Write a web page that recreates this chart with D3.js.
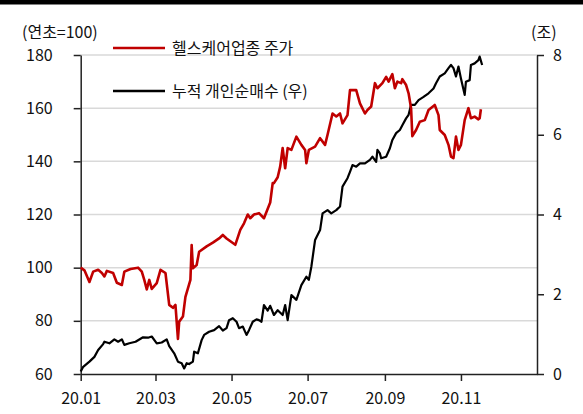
<!DOCTYPE html>
<html>
<head>
<meta charset="utf-8">
<script src="https://cdn.jsdelivr.net/npm/d3@7"></script>
<style>
  body { margin: 0; background: #fff; }
  text { font-family: "Noto Sans CJK KR", "Noto Sans", sans-serif; fill: #111; }
</style>
</head>
<body>
<div id="chart"></div>
<script>
// healthcare sector index (start of year = 100)
var priceDates = ["01-01","01-04","01-08","01-11","01-15","01-18","01-20","01-22","01-27","01-30",
  "02-03","02-05","02-10","02-16","02-19","02-21","02-23","02-25","02-27",
  "03-02","03-05","03-09","03-12","03-15","03-17","03-19","03-20","03-23","03-25","03-29","03-30","03-31",
  "04-03","04-05","04-11","04-16","04-21","04-24","04-27",
  "05-04","05-08","05-11","05-14","05-16","05-19","05-23","05-27",
  "06-01","06-03","06-04","06-07","06-09","06-11","06-13","06-15","06-18","06-22","06-26","06-29","06-30",
  "07-02","07-07","07-11","07-15","07-17","07-21","07-24","07-27","07-29",
  "08-02","08-04","08-09","08-12","08-16","08-18","08-21","08-24","08-26","08-30",
  "09-02","09-04","09-07","09-09","09-11","09-14","09-15","09-18","09-20","09-22","09-23","09-26","09-29",
  "10-03","10-06","10-11","10-14","10-15","10-19","10-22","10-24","10-26","10-28","10-30",
  "11-01","11-04","11-07","11-09","11-12","11-15","11-16","11-17"];
var priceValues = [100,99,94.6,98.5,99.2,98,96.7,98.8,98,94.3,
  93.5,98.5,99.5,100,98.5,95.4,91.8,95.4,92,
  94.2,99.2,98,86,84.9,86,73.2,79.7,81.6,89,95.4,108.5,99.8,
  101,106,108,109.4,111,112.3,111,
  108.6,114.2,116.7,120,118.6,120,120.5,118.6,
  124.5,131.8,131.8,134,138,145,137.4,145,144.3,149.3,146.2,144.3,139.3,
  144.3,145.5,148.7,146.2,150,158,156.9,158,154.3,
  157.4,166.8,166.8,161.8,158,159.3,160.6,169.4,167.5,169.4,
  171.8,170,172.8,167.5,170,169.4,170.9,168.7,165.6,160,149.5,151.8,154.9,
  155.5,159.3,161.2,157.4,151.8,149.9,146.2,141.8,141.2,149.3,144.3,
  146.2,155.5,160,156.2,156.8,155.8,156.2,159.6];

// cumulative individual net buying (trillion won, right axis)
var buyDates = ["01-01","01-03","01-08","01-12","01-15","01-19","01-20","01-24","01-28","01-31",
  "02-03","02-05","02-09","02-14","02-20","02-24","02-27",
  "03-02","03-06","03-10","03-12","03-16","03-19","03-22","03-24","03-26","03-28","03-31",
  "04-01","04-04","04-07","04-09","04-13","04-17","04-21","04-24","04-27","04-29",
  "05-02","05-05","05-07","05-10","05-13","05-15","05-18","05-21","05-23","05-25","05-27","05-30",
  "06-01","06-04","06-07","06-11","06-13","06-15","06-18","06-22","06-26","06-30",
  "07-02","07-04","07-07","07-11","07-13","07-17","07-20","07-24","07-27","07-29",
  "08-02","08-04","08-06","08-09","08-12","08-16","08-20","08-22","08-25","08-26","08-28","08-29",
  "09-02","09-05","09-07","09-10","09-13","09-15","09-18","09-20","09-22","09-25","09-28",
  "10-02","10-06","10-10","10-12","10-15","10-19","10-22","10-24","10-26","10-28","10-30",
  "11-01","11-04","11-05","11-08","11-09","11-12","11-15","11-16","11-18"];
var buyValues = [0.06,0.18,0.31,0.43,0.6,0.75,0.81,0.77,0.87,0.81,
  0.87,0.73,0.77,0.81,0.92,0.91,0.94,
  0.77,0.79,0.87,0.7,0.52,0.31,0.27,0.14,0.27,0.25,0.31,
  0.56,0.52,0.85,0.98,1.06,1.1,1.2,1.09,1.15,1.35,
  1.4,1.31,1.15,1.19,0.98,1.1,1.31,1.37,1.35,1.31,1.73,1.59,
  1.71,1.48,1.6,1.48,1.73,1.35,1.98,1.86,2.23,2.44,
  2.36,2.69,3.36,3.61,4.03,4.11,4.03,4.11,4.2,4.7,
  4.91,5.07,5.24,5.2,5.28,5.28,5.37,5.45,5.32,5.62,5.53,5.41,
  5.45,5.66,5.87,6.04,6.12,6.24,6.41,6.5,6.75,6.75,6.87,
  6.95,7.04,7.16,7.29,7.46,7.54,7.67,7.75,7.67,7.46,7.71,
  7.41,7.0,7.33,7.37,7.75,7.79,7.87,7.96,7.75];

var leftTicks = [60, 80, 100, 120, 140, 160, 180];
var rightTicks = [0, 2, 4, 6, 8];
var monthTicks = ["2020-01-01","2020-03-01","2020-05-01","2020-07-01","2020-09-01","2020-11-01"];
var legendLabels = ["헬스케어업종 주가", "누적 개인순매수 (우)"];

var W = 583, H = 414;
var margin = { top: 55, right: 46, bottom: 40, left: 80.7 };

var svg = d3.select("#chart").append("svg")
  .attr("width", W).attr("height", H);

// heavy rule across the top
svg.append("rect").attr("x", 0).attr("y", 0).attr("width", W).attr("height", 4.5).attr("fill", "#000");

var parse = d3.timeParse("%Y-%m-%d");
var x = d3.scaleTime()
  .domain([parse("2020-01-01"), parse("2021-01-01")])
  .range([margin.left, W - margin.right]);
var yL = d3.scaleLinear().domain([60, 180]).range([H - margin.bottom, margin.top]);
var yR = d3.scaleLinear().domain([0, 8]).range([H - margin.bottom, margin.top]);

// gridlines
svg.append("g").selectAll("line")
  .data(leftTicks.slice(1))
  .join("line")
  .attr("x1", margin.left).attr("x2", W - margin.right)
  .attr("y1", function(d) { return yL(d); }).attr("y2", function(d) { return yL(d); })
  .attr("stroke", "#d9d9d9").attr("stroke-width", 1.5);

// axes
var axL = svg.append("g")
  .attr("transform", "translate(" + margin.left + ",0)")
  .call(d3.axisLeft(yL).tickValues(leftTicks).tickSize(7).tickPadding(21).tickSizeOuter(0));
var axR = svg.append("g")
  .attr("transform", "translate(" + (W - margin.right) + ",0)")
  .call(d3.axisRight(yR).tickValues(rightTicks).tickSize(7).tickPadding(9).tickSizeOuter(0));
var axB = svg.append("g")
  .attr("transform", "translate(0," + (H - margin.bottom) + ")")
  .call(d3.axisBottom(x).tickValues(monthTicks.map(parse))
    .tickFormat(d3.timeFormat("%y.%m")).tickSize(7).tickPadding(12).tickSizeOuter(0));

[axL, axR, axB].forEach(function(ax) {
  ax.select(".domain").attr("stroke", "#222").attr("stroke-width", 1.5);
  ax.selectAll(".tick line").attr("stroke", "#222").attr("stroke-width", 1.5);
  ax.selectAll("text").attr("font-size", 16).attr("fill", "#111")
    .style("font-family", "'Noto Sans CJK KR', sans-serif");
});
axL.selectAll("text").attr("text-anchor", "end");

// lines
var toDate = function(md) { return parse("2020-" + md); };

var redLine = d3.line()
  .x(function(d, i) { return x(toDate(priceDates[i])); })
  .y(function(d) { return yL(d); });
var blackLine = d3.line()
  .x(function(d, i) { return x(toDate(buyDates[i])); })
  .y(function(d) { return yR(d); });

svg.append("path").datum(buyValues)
  .attr("d", blackLine).attr("fill", "none")
  .attr("stroke", "#000").attr("stroke-width", 2.2).attr("stroke-linejoin", "round");
svg.append("path").datum(priceValues)
  .attr("d", redLine).attr("fill", "none")
  .attr("stroke", "#c00000").attr("stroke-width", 2.6).attr("stroke-linejoin", "round");

// legend
var legendColors = ["#c00000", "#000"];
var legendY = [48, 91];
var lg = svg.append("g").selectAll("g").data(legendLabels).join("g")
  .attr("transform", function(d, i) { return "translate(113," + legendY[i] + ")"; });
lg.append("line").attr("x1", 0).attr("x2", 52)
  .attr("stroke", function(d, i) { return legendColors[i]; }).attr("stroke-width", 2.5);
lg.append("text").attr("x", 59).attr("dy", "0.35em").attr("font-size", 16)
  .text(function(d) { return d; });

// unit labels
svg.append("text").attr("x", 22).attr("y", 38).attr("font-size", 16).text("(연초=100)");
svg.append("text").attr("x", 531).attr("y", 38).attr("font-size", 16).text("(조)");
</script>
</body>
</html>
